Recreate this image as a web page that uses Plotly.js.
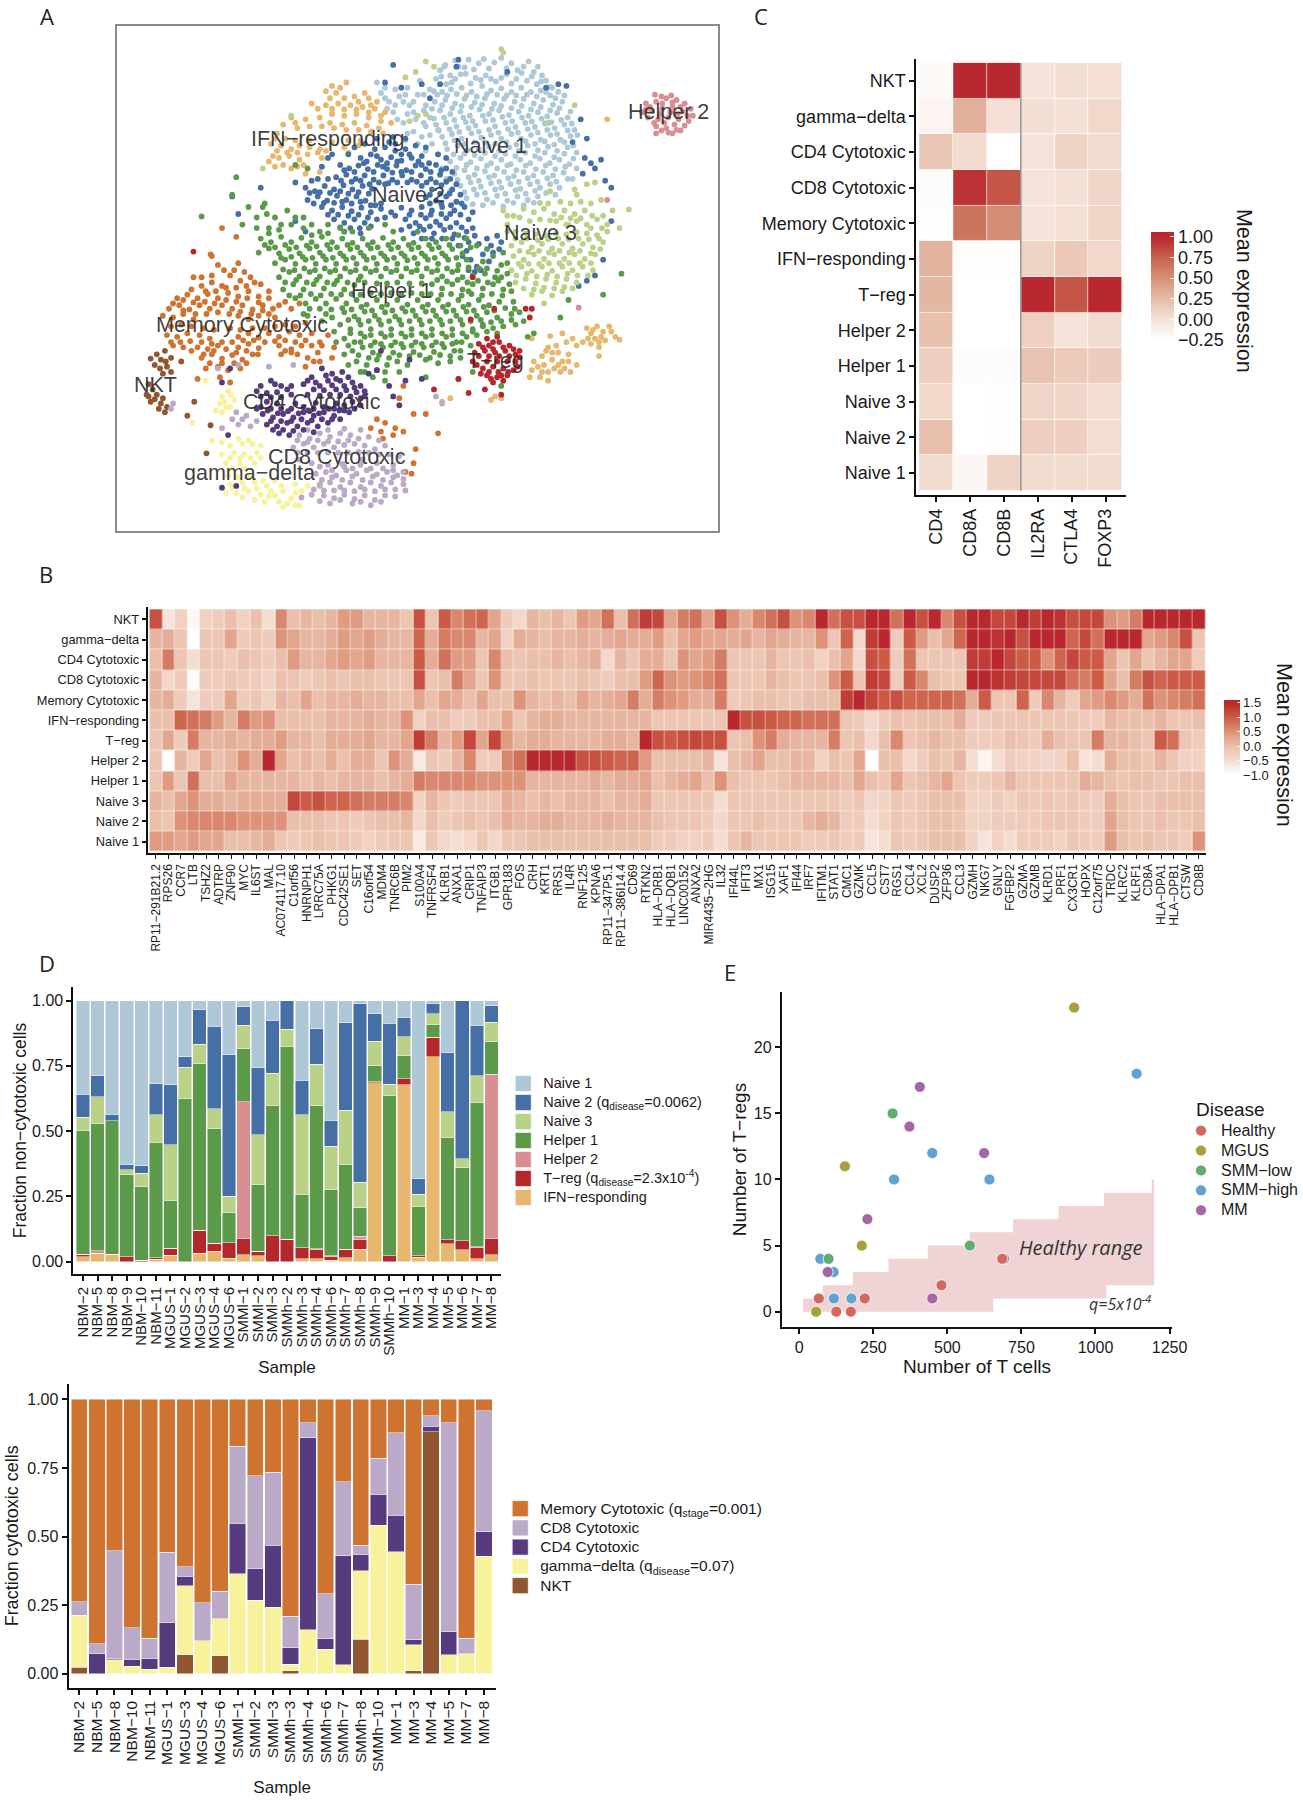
<!DOCTYPE html>
<html><head><meta charset="utf-8">
<script src="https://cdn.plot.ly/plotly-3.0.1.min.js"></script>
<style>html,body{margin:0;padding:0;background:#fff}</style></head>
<body><div id="chart" style="width:1303px;height:1800px"></div>
<script>
const naive1Pts=[835,200,860,215,880,190,905,170,930,180,955,195,985,165,1010,180,1040,190,1065,205,1085,215,825,225,850,240,872,225,898,210,922,222,947,215,972,232,998,212,1022,225,1048,230,1072,240,1095,230,1110,250,840,262,862,255,888,250,912,262,938,245,960,258,985,252,1010,262,1034,250,1058,262,1082,258,1105,272,1125,262,822,290,848,285,872,295,895,282,920,292,945,280,968,295,992,282,1018,290,1040,282,1065,295,1088,285,1112,298,1135,290,810,335,835,315,860,325,885,318,908,330,932,312,955,325,980,315,1004,328,1028,318,1052,330,1075,320,1098,332,1122,322,1148,335,825,355,850,350,875,360,898,348,922,358,946,345,970,360,995,350,1020,362,1044,350,1068,362,1092,352,1116,365,1140,355,1165,370,840,390,864,382,888,395,912,380,936,392,960,385,985,395,1010,382,1034,395,1058,385,1082,398,1106,385,1130,398,1155,388,852,425,878,415,902,428,930,425,955,418,980,430,1005,420,1028,430,1050,415,1075,428,1100,418,1122,430,1148,420,1170,435,860,460,885,450,910,462,935,452,960,465,985,455,1008,468,1032,455,1056,465,1080,452,1104,465,1128,455,1152,468,870,495,895,485,920,498,945,488,968,500,992,490,1016,502,1040,490,1064,500,1088,490,1112,500,1138,492,1160,510,885,530,910,520,935,532,960,522,985,535,1008,525,1032,538,1056,525,1080,535,1105,525,1128,535,900,565,925,555,950,568,975,558,1000,572,1025,560,1050,570,1075,560,680,235,710,290,735,275,760,300,720,320,780,270,800,300,775,340,745,350,700,250,830,370,790,390,815,410,770,375,
848,185,872,172,895,192,918,198,942,168,968,178,998,195,1025,200,1052,175,1075,190,838,218,863,235,885,212,910,238,935,228,960,225,985,222,1010,238,1035,208,1060,218,1083,232,1105,248,828,270,852,272,876,268,900,272,925,275,950,268,975,270,998,272,1022,272,1048,270,1072,275,1095,262,1118,280,1140,272,815,310,840,300,865,308,888,302,912,305,938,298,962,310,985,302,1010,308,1035,302,1058,312,1082,305,1105,315,1128,308,1155,318,820,338,845,335,870,342,892,335,915,345,940,330,965,342,988,333,1012,345,1036,335,1060,346,1084,338,1108,348,1132,342,1158,352,832,372,858,368,882,376,905,365,930,375,955,370,978,378,1002,368,1026,378,1050,368,1075,378,1098,370,1122,382,1148,372,1172,385,848,408,870,400,895,410,920,405,945,405,970,410,998,405,1022,412,1045,402,1068,410,1092,403,1115,412,1140,405,1162,415,868,440,895,438,920,442,945,436,970,445,995,438,1020,445,1044,435,1068,445,1092,435,1115,448,1140,438,1162,452,875,478,900,470,925,480,950,472,975,480,1000,472,1022,485,1045,472,1070,482,1094,472,1118,482,1142,475,1170,480,878,512,905,505,930,515,955,505,980,518,1002,508,1028,518,1050,508,1074,518,1098,508,1120,518,1148,510,895,548,918,540,945,550,970,540,995,552,1020,542,1045,552,1068,544,1095,550,1118,555,915,582,940,585,965,578,990,588,1015,578,1040,585,1065,578,690,265,725,300,750,270,770,320,795,315,810,255,845,190,755,380,800,360,705,310,785,230,700,280,725,255,755,250,745,290,770,290,795,270,820,260,730,340,755,325,795,350,810,385,750,400,780,410,800,430,830,440,840,480,850,510,860,545,875,575];
const naive2Pts=[700,420,725,430,750,425,640,450,665,440,690,455,715,448,740,458,765,450,790,445,590,470,612,480,635,472,658,482,682,470,705,482,728,472,752,485,775,472,800,482,825,470,850,480,580,505,605,498,628,510,650,500,672,512,696,500,718,512,742,500,765,512,788,500,812,510,835,498,860,510,505,535,528,545,552,530,575,540,598,528,620,540,645,530,668,538,700,525,790,530,815,540,838,528,865,540,510,570,535,560,558,572,582,558,605,570,630,560,652,572,676,585,800,562,825,572,850,560,875,575,545,590,570,600,595,590,618,602,642,592,665,605,690,595,715,605,740,592,765,600,790,590,815,600,840,590,870,600,895,590,575,625,600,635,625,625,650,635,680,625,750,625,775,635,800,622,825,632,850,622,875,635,905,625,600,660,640,665,740,655,770,665,795,655,820,665,845,655,870,668,900,660,880,700,905,690,930,695,960,700,985,690,965,720,980,710,910,740,925,760,905,770,920,775,890,730,325,560,340,610,480,520,395,535,720,185,875,190,740,250,790,240,700,235,810,280,835,240,880,170,1000,205,1095,250,1125,240,1145,245,1180,340,1160,405,1195,395,1190,450,1205,465,1215,480,1230,455,1185,495,1240,515,1255,535,1255,630,1235,740,1215,785,1195,800,1175,815,480,630,505,660,
710,405,740,440,675,425,725,410,655,460,680,445,705,465,730,460,760,440,782,460,808,465,600,485,625,490,648,465,672,490,695,475,718,492,740,490,765,490,790,470,812,490,838,485,865,490,592,515,618,518,640,515,662,525,685,520,708,522,730,520,755,520,778,518,802,520,825,520,850,518,875,525,515,550,540,548,565,550,590,545,610,552,635,548,660,552,810,555,835,552,858,552,885,555,525,580,550,578,575,578,595,575,618,580,640,575,665,585,690,580,810,580,838,580,862,585,888,580,560,612,585,612,610,615,635,612,658,620,700,620,725,615,760,612,788,612,812,612,838,610,860,610,885,612,915,605,590,648,615,650,638,650,665,645,760,645,785,645,810,645,835,642,860,648,888,648,915,650,790,680,815,680,840,680,865,680,895,678,920,672,950,680,975,672,940,725,955,745,900,715,935,770,560,450,545,475,570,440,610,440,625,420,650,410,680,395,720,390,750,395,775,415,800,420,830,440,850,450,535,510,560,510,520,515];
const naive3Pts=[1105,545,1165,540,1195,525,1230,570,1258,600,1298,597,1275,650,1215,520,1170,555,990,600,1015,615,1040,595,1065,605,1090,595,1115,610,1140,600,1165,610,1190,600,1000,640,1120,630,1145,640,1170,630,1195,640,1220,625,1245,640,1195,665,1220,670,1245,660,1010,700,1035,690,1060,705,1085,695,1110,708,1135,695,1160,708,1185,695,1210,705,1235,690,1015,730,1040,740,1065,725,1090,738,1115,725,1140,738,1165,725,1190,738,1215,725,1010,770,1035,760,1060,772,1085,760,1110,772,1135,760,1160,770,1185,760,1210,770,1020,805,1045,795,1070,808,1095,795,1120,805,1145,795,1170,805,1060,840,1085,830,1110,842,1135,830,1090,865,400,480,470,330,820,190,800,175,750,220,775,205,985,140,990,150,780,330,800,325,760,345,1100,350,1165,300,1150,640,1000,660,
1000,615,1030,620,1055,630,1080,625,1105,628,1132,620,1155,622,1180,622,1208,615,1235,615,1020,660,1045,665,1070,668,1095,672,1120,665,1145,668,1170,662,1205,650,1232,650,1020,680,1048,680,1075,685,1100,682,1125,680,1150,682,1175,680,1200,682,1225,680,1030,715,1052,718,1078,715,1102,720,1128,715,1152,720,1178,715,1205,722,1228,710,1028,752,1052,752,1078,752,1102,750,1128,750,1152,750,1178,750,1205,750,1022,785,1048,780,1072,788,1098,782,1122,788,1148,780,1172,785,1198,785,1040,822,1065,825,1090,820,1115,822,1140,818,1160,822,1100,580,1130,575,1155,580,1180,575,1205,580,1080,578];
const helper1Pts=[400,590,350,640,385,650,460,600,430,620,470,640,500,650,540,660,395,680,420,690,445,675,470,690,495,678,520,690,545,675,570,690,595,680,620,692,645,680,670,690,695,678,720,690,745,680,770,692,800,680,825,690,850,680,880,670,390,720,415,708,440,722,465,710,490,722,515,708,540,720,565,710,590,722,615,710,640,720,665,708,690,722,715,710,740,722,765,710,790,722,815,710,840,722,865,710,890,722,430,750,455,740,480,752,505,740,530,752,555,740,580,752,605,740,630,752,655,740,680,752,705,740,730,752,755,742,780,752,805,740,830,752,855,740,880,755,940,745,965,730,985,755,440,790,465,775,490,788,515,775,540,788,565,775,590,788,615,775,640,788,665,775,690,788,715,775,740,788,765,775,790,788,815,775,840,788,865,775,890,790,915,785,945,780,970,790,1000,780,450,825,475,810,500,825,525,810,550,822,575,810,600,825,625,812,815,810,840,822,865,810,890,825,915,810,940,822,965,810,990,825,480,850,505,865,530,852,555,865,580,852,605,865,630,855,655,868,680,855,705,868,730,855,755,868,780,855,805,868,830,855,855,868,880,855,905,868,930,855,955,870,980,860,500,895,600,890,625,902,650,888,675,900,700,890,725,902,750,888,775,900,800,888,825,900,850,888,875,900,900,888,925,900,950,890,975,905,1010,895,590,925,615,938,640,925,665,938,690,925,715,938,740,925,765,938,790,925,815,938,840,925,865,938,890,925,915,938,940,925,965,935,990,930,1020,925,600,965,625,975,650,960,675,975,700,960,725,975,750,960,775,975,800,960,825,975,850,960,875,975,900,960,925,955,950,945,975,950,620,1000,645,990,670,1005,695,990,720,1005,745,990,770,1003,795,990,820,1003,845,990,870,1000,630,1030,655,1040,680,1025,705,1040,730,1030,755,1040,800,1025,830,1035,860,1030,885,1020,1040,915,1065,950,1130,905,1150,855,1235,840,1280,780,1050,960,880,1080,800,1075,915,1060,735,1060,985,1100,325,555,250,617,335,505,510,900,480,470,510,480,405,580,
405,698,430,705,455,698,482,705,508,700,532,702,558,698,582,705,608,698,632,705,658,698,682,705,708,698,732,705,758,698,782,705,808,698,832,705,858,698,885,700,910,705,445,735,470,732,498,732,522,735,548,730,572,735,598,730,622,735,648,730,672,735,698,730,722,735,748,730,772,735,798,730,822,735,848,730,875,735,900,740,950,765,975,772,450,768,478,770,502,765,528,770,552,765,578,770,602,765,628,770,652,765,678,770,702,765,728,770,752,765,778,770,802,765,828,770,852,765,878,770,905,762,930,765,455,805,482,798,508,805,532,798,558,805,582,800,608,805,635,798,650,805,680,808,705,808,730,805,760,808,790,808,828,798,852,802,878,798,902,805,928,800,952,805,978,800,1005,810,465,842,492,842,518,838,542,842,568,838,592,840,618,838,640,840,665,835,690,838,715,835,740,838,765,835,790,838,812,838,838,840,862,838,888,842,912,838,938,842,962,838,988,842,515,880,540,880,568,882,595,878,618,882,642,875,668,885,692,875,718,885,742,878,768,885,792,875,818,885,842,875,868,885,892,875,918,885,942,875,968,885,995,878,1018,880,610,912,635,912,660,915,685,912,710,915,735,912,760,915,785,912,810,915,835,912,860,915,885,912,910,915,935,912,960,918,985,915,1010,912,615,950,640,950,665,955,690,950,715,955,740,950,765,955,790,950,815,955,840,950,865,955,890,950,915,945,940,930,635,1012,660,1020,685,1012,710,1020,735,1012,760,1015,785,1012,810,1020,835,1012,860,1015,885,1000,610,985,640,975,665,985,690,980,715,985,740,980,765,985,790,980,815,985,840,980,865,980,888,975,910,985,650,1060,680,1055,700,1060,520,670,560,665,600,660,780,660,365,590,385,620,410,610,445,640,415,650,440,655,415,665,480,620,500,620,520,640,560,640,590,650,620,660,660,650,700,640,720,660,900,680,925,700,950,710,990,720,1000,750,985,790,1010,830,1015,860,1030,890,905,830,555,895,545,915,570,905,575,945,580,975,600,1010,610,1040,640,1060,670,1075,700,1085];
const memoryPts=[272,725,340,750,275,785,250,790,230,790,290,755,320,785,345,800,370,790,395,810,300,815,275,805,250,815,225,825,190,850,215,840,240,850,265,838,290,850,315,835,340,845,365,830,390,845,415,830,170,880,195,870,220,882,245,870,270,880,300,870,325,880,350,870,375,882,400,870,455,860,470,880,155,900,180,905,205,895,230,910,340,900,365,910,390,900,415,895,490,865,165,955,190,960,215,950,245,955,270,965,340,960,365,950,390,962,415,950,440,960,465,945,490,955,520,950,560,955,180,985,205,990,240,990,265,995,290,985,340,990,365,980,390,992,440,985,470,995,495,985,250,1020,275,1010,300,1022,325,1012,350,1025,375,1010,445,1010,470,1005,510,1020,535,1005,575,990,260,1050,290,1045,315,1055,345,1050,525,1030,570,1020,295,1075,320,1090,240,1080,680,1195,700,1205,665,1220,690,1230,725,1220,745,1230,695,1250,720,1240,775,1280,770,1320,750,1345,765,1350,735,1135,745,1100,770,1180,800,1180,830,1235,300,650,335,675,275,730,
305,770,330,770,355,775,380,805,260,830,285,830,310,820,335,820,360,815,205,855,230,862,258,860,282,865,310,855,335,860,362,850,390,862,415,850,440,870,180,865,205,885,235,895,262,895,290,890,318,895,345,888,372,895,400,885,425,880,430,905,175,930,200,925,225,930,255,935,280,940,320,935,345,940,375,935,405,935,430,930,455,925,480,930,505,920,175,975,198,975,222,972,250,975,275,980,300,975,325,975,352,970,378,970,405,975,430,972,455,970,480,975,505,970,540,975,225,1000,255,1010,280,1000,310,995,335,1005,360,1000,388,1010,455,1000,485,1010,520,985,545,985,270,1035,300,1035,330,1035,360,1035,540,1030,505,1045];
const nktPts=[160,1000,125,1022,150,1025,175,1020,135,1040,165,1045,155,1065,175,1060,130,1110,115,1125,140,1125,125,1145,150,1150,165,1160,145,1165,120,1095,200,1030,232,1145,215,1185,272,1212,262,1292,140,1010,162,1030,148,1050,120,1130,135,1138,155,1135,160,1175];
const cd4Pts=[545,1050,570,1065,595,1060,520,1075,420,1085,395,1100,445,1100,500,1095,530,1090,560,1085,590,1085,620,1090,640,1100,660,1065,680,1055,385,1115,410,1120,435,1118,460,1110,525,1110,550,1112,580,1110,605,1112,630,1118,400,1180,425,1190,450,1180,475,1190,500,1175,525,1185,550,1175,575,1185,600,1170,625,1165,410,1210,435,1215,460,1205,485,1215,510,1205,535,1215,560,1205,440,1235,465,1240,410,1145,435,1150,480,1150,530,1148,580,1150,620,1145,650,1130,710,1100,720,1130,735,1155,320,1050,300,1090,315,1240,300,1390,335,1385,690,1000,760,1025,750,1085,790,1080,
555,1070,580,1080,610,1075,430,1095,470,1100,510,1085,540,1100,570,1098,600,1100,625,1105,650,1115,395,1130,420,1132,445,1132,470,1125,510,1125,540,1128,565,1125,590,1125,615,1130,640,1135,395,1160,420,1165,445,1165,470,1165,500,1160,525,1165,550,1160,575,1165,600,1155,640,1155,385,1165,412,1170,437,1178,462,1172,488,1178,512,1170,538,1178,562,1165,588,1170,612,1175,420,1200,445,1200,470,1200,495,1195,520,1198,545,1195,570,1195,590,1195,425,1225,450,1225,475,1228,500,1225,525,1232];
const cd8Pts=[335,1175,360,1185,385,1200,300,1220,340,1210,490,1240,515,1250,540,1235,565,1245,590,1235,615,1240,640,1225,475,1275,500,1265,525,1275,550,1265,575,1275,600,1268,625,1265,650,1270,675,1280,700,1270,530,1350,555,1345,580,1355,605,1340,630,1350,655,1340,680,1352,705,1345,730,1355,540,1385,565,1375,590,1388,615,1375,640,1388,665,1375,690,1385,715,1375,745,1380,495,1418,520,1410,550,1412,575,1420,600,1410,625,1422,650,1412,675,1425,700,1412,725,1415,590,1425,620,1435,665,1440,490,1310,520,1320,560,1325,600,1330,640,1325,680,1320,720,1325,475,1040,415,1045,340,1040,290,1050,180,1150,175,1165,840,1150,825,1130,
350,1195,370,1215,325,1195,510,1225,560,1225,600,1222,485,1255,510,1260,535,1255,560,1258,585,1258,610,1255,635,1250,660,1245,685,1255,485,1290,510,1290,535,1290,560,1290,585,1290,610,1290,635,1288,660,1290,685,1295,710,1295,735,1300,540,1330,570,1340,595,1322,620,1335,645,1310,665,1335,695,1335,720,1340,745,1345,545,1368,570,1360,595,1368,620,1358,645,1368,670,1358,695,1368,720,1360,745,1365,525,1395,550,1398,575,1398,600,1398,625,1400,650,1395,675,1400,700,1395,725,1395,750,1398,540,1428,565,1435,640,1430,690,1430];
const gammaPts=[300,1130,315,1115,295,1150,320,1160,300,1175,330,1140,275,1255,320,1270,350,1265,375,1265,300,1295,330,1290,355,1295,385,1290,310,1320,345,1320,380,1320,320,1380,350,1375,380,1375,410,1385,445,1385,310,1405,335,1405,365,1400,395,1410,480,1380,510,1385,415,1415,440,1430,470,1420,490,1440,450,1445,260,1085,228,1205,
305,1145,285,1170,322,1125,310,1160,300,1260,340,1250,365,1255,395,1270,320,1305,345,1305,370,1305,395,1305,325,1335,355,1335,315,1355,340,1360,370,1360,400,1370,430,1370,325,1390,355,1392,385,1392,420,1400,450,1400,480,1405,350,1418,380,1425,405,1430,430,1412,460,1435,480,1440,495,1400];
const tregPts=[950,965,975,960,930,980,955,985,980,975,1005,985,1030,1000,920,1005,945,1000,970,1005,995,1000,1020,1010,915,1030,1000,1030,1020,1030,940,1050,965,1045,990,1050,1015,1055,950,1070,975,1075,1000,1070,965,1090,990,1085,1045,880,1060,880,968,880,1055,905,910,910,905,1120,945,1110,985,1125,230,717,820,1110,880,1080,915,790,
965,975,940,990,965,995,990,990,1015,995,930,1015,955,1015,980,1015,1005,1015,1030,1018,925,1040,950,1030,975,1030,955,1060,978,1060,1002,1060,1025,1045,935,1065,960,1080,985,1070];
const helper2Pts=[1362,270,1340,295,1365,290,1390,280,1415,285,1435,295,1450,310,1330,320,1355,315,1380,310,1405,305,1430,318,1455,330,1345,335,1370,340,1395,335,1420,340,1445,345,1365,360,1390,365,1415,370,1365,380,1395,378,1425,372,1175,877,1245,570,
1378,275,1402,272,1425,305,1350,305,1375,325,1400,320,1442,330,1418,325,1360,350,1385,350,1410,355,1435,358,1340,312,1380,295,1405,292,1378,372,1405,380];
const ifnPts=[570,245,605,235,555,260,580,265,650,265,625,275,660,280,680,290,520,295,555,300,585,295,615,300,645,305,675,310,700,320,570,325,600,330,630,325,660,335,690,345,470,335,450,355,480,350,505,340,540,335,565,350,595,355,625,350,655,358,685,365,715,350,435,380,420,410,445,415,470,425,490,415,515,420,540,425,600,420,635,415,415,460,440,450,465,445,490,455,430,475,470,480,500,470,545,450,540,490,505,495,1195,935,1220,930,1250,930,1235,945,1205,950,1160,965,1185,975,1215,965,1240,970,1265,960,1275,968,1225,990,1205,980,1225,1015,1100,990,1125,1005,1150,1010,1085,1015,1110,1025,1135,1030,1065,1030,1090,1040,1115,1050,1060,1055,1085,1060,1140,1050,1170,1040,1100,1085,1060,965,1105,958,1135,950,970,1130,960,1140,985,1135,860,1135,840,1145,835,1010,1245,340,540,1380,
590,250,565,280,600,280,635,290,665,300,535,310,570,310,600,312,630,312,660,320,690,330,485,365,515,360,545,360,575,365,605,370,635,370,665,375,695,380,455,395,430,395,480,400,515,400,570,405,610,400,640,400,435,430,460,435,485,435,510,440,535,435,555,430,610,435,425,445,450,470,485,475,1210,940,1230,960,1198,965,1225,975,1255,945,1145,975,1170,985,1120,985,1110,1005,1095,1000,1075,1045,1100,1060,1125,1040,1150,1030,1130,1060,1155,1060,1080,1075,1055,1075];
const clusterLabels=['IFN−responding','Naive 1','Naive 2','Naive 3','Helper 2','Helper 1','Memory Cytotoxic','NKT','CD4 Cytotoxic','CD8 Cytotoxic','gamma−delta','T−reg'];
const clusterLabelX=[560,958,757,1082,1396,715,350,137,520,583,368,970];
const clusterLabelY=[395,417,556,663,320,828,925,1098,1145,1303,1347,1028];

// ---------- Shared row names ----------
const rowNames=['NKT','gamma−delta','CD4 Cytotoxic','CD8 Cytotoxic','Memory Cytotoxic','IFN−responding','T−reg','Helper 2','Helper 1','Naive 3','Naive 2','Naive 1'];

// ---------- Panel C ----------
const markerGenes=['CD4','CD8A','CD8B','IL2RA','CTLA4','FOXP3'];
const markerValues=[
[-.2,1.05,1.05,0,.03,.02],
[-.15,.32,.02,.03,.02,.07],
[.18,.05,-.25,0,.1,.05],
[-.22,.95,.8,0,.02,.08],
[-.23,.65,.52,0,.02,.08],
[.3,-.24,-.24,.1,.17,.07],
[.28,-.25,-.25,1.05,.8,1.05],
[.22,-.25,-.25,.12,0,.05],
[.13,-.22,-.22,.2,.15,.14],
[.07,-.25,-.24,.08,.08,.04],
[.22,-.25,-.24,.13,.13,.04],
[.05,-.18,.1,.05,.05,.05]];

// ---------- Panel B ----------
const topGenes=['RP11−291B21.2','RPS26','CCR7','LTB','TSHZ2','ADTRP','ZNF90','MYC','IL6ST','MAL','AC074117.10','C1orf56','HNRNPH1','LRRC75A','PHKG1','CDC42SE1','SET','C16orf54','MDM4','TNRC6B','PIM2','S100A4','TNFRSF4','KLRB1','ANXA1','CRIP1','TNFAIP3','ITGB1','GPR183','FOS','CRH','KRT1','RRS1','IL4R','RNF125','KPNA6','RP11−347P5.1','RP11−386I14.4','CD69','RTKN2','HLA−DRB1','HLA−DQB1','LINC00152','ANXA2','MIR4435−2HG','IL32','IFI44L','IFIT3','MX1','ISG15','XAF1','IFI44','IRF7','IFITM1','STAT1','CMC1','GZMK','CCL5','CST7','RGS1','CCL4','XCL2','DUSP2','ZFP36','CCL3','GZMH','NKG7','GNLY','FGFBP2','GZMA','GZMB','KLRD1','PRF1','CX3CR1','HOPX','C12orf75','TRDC','KLRC2','KLRF1','CD8A','HLA−DPA1','HLA−DPB1','CTSW','CD8B'];
const exprNKT=[1.1,-.6,-.3,-.9,-.3,-.2,0,-.3,0,-.5,.6,0,.1,0,.1,.4,.4,.1,.1,.1,-.1,1.1,-.1,1,.6,.8,.9,.3,-.2,-.4,.1,0,.1,-.1,.4,.3,.8,0,.8,1.3,1.2,.3,.7,.8,.3,1.1,.5,.2,.6,.8,1.1,.5,.6,1.5,.8,1.1,1.1,1.5,1.5,.8,1.5,1.1,1.5,.6,1.1,1.5,1.5,1.2,1.2,1.5,1.3,1.5,1.4,1.1,1.2,1.2,.5,.4,.7,1.5,1.5,1.5,1.5,1.5];
const exprGamma=[.1,.2,-.1,-1,-.1,-.1,.3,-.2,-.1,-.2,.5,.3,.1,.1,.2,.4,.3,.4,.2,.1,.1,.9,.2,.7,.6,.6,.1,.3,-.3,.2,.1,0,.1,.1,.2,.1,.2,.3,.2,.2,.4,0,.3,.4,.3,.3,.2,.3,.1,.3,.2,.1,.1,.5,-.1,.9,-.4,1.3,1.5,-.2,1,.4,0,.3,.9,1.5,1.5,1.4,1.5,1.1,1.5,1.5,1.5,.9,1.2,.8,1.5,1.5,1.5,.3,.4,.6,1.1,-.1];
const exprCD4=[0,.7,-.1,-.5,-.1,-.1,-.2,0,-.1,-.2,0,.4,.1,.1,.3,.4,.3,.4,.1,.1,.1,1,.2,.8,.4,.4,-.1,.6,0,-.1,0,0,.1,0,.1,.2,-.4,.1,-.1,.2,.2,-.1,.5,.3,.4,.7,-.1,-.1,-.1,.1,-.1,-.1,0,-.3,0,.3,-.4,1.1,1,-.2,.8,-.1,-.1,-.1,-.1,1.3,1.3,1.5,1.2,1,1,.5,.9,1.2,1,1,.3,-.1,.3,-.1,.1,.3,.3,-.2];
const exprCD8=[.1,-.4,-.2,-.95,-.2,-.2,-.1,-.2,-.2,-.3,0,-.1,-.2,-.1,0,-.1,0,0,-.1,-.1,-.1,1.1,-.1,0,.7,.3,-.1,.5,-.1,-.1,0,-.1,-.1,-.1,0,-.1,-.2,0,0,.4,.9,.5,.4,.5,.6,.8,-.1,-.1,-.1,.1,0,-.1,-.1,0,.5,1,-.1,1.3,1.2,-.2,1,.6,0,-.1,-.1,1.5,1.5,1.4,1.3,1.2,1.2,1.2,1.2,.8,.7,1,.3,0,.7,1.1,.9,1,1,1];
const exprMemory=[.1,.2,-.2,-.6,-.2,-.2,.3,-.2,-.1,-.3,.1,0,.3,0,.1,.1,.2,.1,.1,0,0,.3,0,.3,.2,0,.3,0,0,.5,.1,0,.1,0,.3,.1,.2,.3,.7,.2,.7,.5,.4,.2,.2,.7,-.2,-.1,0,0,-.1,-.1,0,0,0,1.3,1.5,1.2,1,1.1,.9,.9,.9,.9,.8,.2,1,-.1,-.1,.9,-.2,.6,.1,-.2,.3,.4,.6,.4,.2,.8,.5,.6,.7,.8];
const exprIFN=[0,0,.9,.8,.7,.4,.1,.7,.4,.5,0,0,0,0,.1,.1,.1,.2,.1,.1,.5,-.3,0,0,-.2,-.2,0,0,.3,-.1,.1,.2,.2,.1,.1,.1,.1,.1,.1,.1,-.1,-.1,-.1,-.1,-.1,-.1,1.5,1.1,1.1,1,.9,.9,.8,.8,.8,-.1,-.2,-.4,-.2,0,-.1,0,0,0,.2,-.2,-.2,-.1,-.1,-.1,-.1,-.1,-.1,-.1,-.2,-.2,.1,0,0,0,.1,-.1,-.1,0];
const exprTreg=[-.1,.3,-.2,.7,.1,.1,.2,.1,.2,.2,.4,.1,.1,0,.2,.2,.2,.3,.1,.1,.3,1.3,.7,.1,.4,1.2,.3,1.2,.4,.1,.2,.2,.1,.1,.1,.1,.2,.2,.1,1.5,1.1,1,1.1,1.2,1.1,1.1,-.1,0,.5,.7,.2,.1,.1,.1,.7,-.1,0,-.4,0,.6,-.1,0,.1,0,0,-.2,-.2,-.2,0,-.1,-.2,.2,0,-.1,-.1,.7,.1,.1,0,-.1,1,.8,-.1,-.2];
const exprHelper2=[-.1,-1,.1,-.2,.3,0,.1,.5,.2,1.5,.3,0,.1,0,.2,0,.2,.2,-.1,.5,.2,-.7,-.1,-.2,.1,.6,-.2,-.2,.6,.8,1.5,1.5,1.5,1.5,1.1,1.1,1,.9,.9,.4,0,0,0,0,.1,-.6,0,.1,.3,0,0,.1,.1,-.3,0,-.1,.3,-1,0,0,-.4,-.2,0,-.1,.1,-.5,-.85,-.5,-.2,-.3,-.3,-.4,-.3,0,-.6,-.5,.2,0,0,-.1,.1,-.1,-.3,-.3];
const exprHelper1=[-.1,.4,-.1,.8,0,0,.3,.1,.1,.1,.1,.1,0,.1,0,.1,.1,.1,0,.1,.2,.7,.6,.6,.6,.6,.5,.5,.5,.5,.1,.1,.1,.1,.1,.2,.1,.2,.2,.3,0,.1,.2,.3,0,.5,0,-.1,-.1,-.1,0,.1,.1,.1,.1,0,.3,0,-.1,.3,-.1,0,.1,.3,-.1,-.2,-.2,-.1,.1,-.1,-.1,-.1,-.1,-.1,.2,.1,0,-.1,0,0,-.1,-.1,0,0];
const exprNaive3=[.1,0,.3,.5,.2,.2,.1,.2,.2,.2,.2,1.2,1,1.1,.9,.9,.8,.7,.7,.7,.6,-.3,.1,-.1,-.2,-.1,-.1,-.1,.2,.1,0,.1,0,.1,.1,.1,0,.1,.1,.2,-.1,-.1,-.1,-.1,-.1,-.5,-.1,-.1,-.1,-.1,-.1,-.1,-.1,-.1,-.1,-.2,-.1,-.4,-.3,-.1,-.2,-.1,0,0,0,-.3,-.3,-.2,-.3,-.1,-.2,-.1,-.2,-.1,-.2,-.2,.2,0,-.1,-.1,0,0,0,0];
const exprNaive2=[0,-.1,.5,.6,.6,.6,.6,.5,.5,.5,.5,0,0,0,-.1,-.1,-.2,-.1,0,0,.1,-.4,0,-.2,-.1,0,-.1,0,.2,.1,.1,.2,.2,.1,.1,.1,.2,.1,.1,.1,0,-.1,-.1,-.1,-.2,-.4,-.1,-.1,0,-.1,-.1,-.1,.1,.2,.1,-.2,-.2,-.5,-.3,-.1,-.2,-.1,0,0,-.1,-.3,-.3,-.2,-.2,-.2,-.2,-.1,-.1,-.1,-.2,-.2,.3,0,-.1,-.1,0,-.1,-.1,0];
const exprNaive1=[.4,.4,.3,.4,.3,.3,0,0,.1,.2,-.1,-.2,-.1,0,-.1,-.1,-.2,-.3,-.2,-.1,-.1,-.7,-.1,-.4,-.5,-.4,-.1,-.4,-.1,-.1,0,0,0,0,0,0,0,0,0,0,-.2,-.2,-.3,-.3,-.2,-.5,-.1,.1,-.1,-.1,-.1,-.1,-.2,-.2,-.1,-.2,-.2,-.6,-.5,-.1,-.2,-.1,0,0,0,-.3,-.6,-.3,-.5,-.2,-.2,-.2,-.3,-.1,-.2,-.2,.4,0,-.1,0,-.1,-.1,-.2,.5];

// ---------- Panel D, upper ----------
const samplesNon=['NBM−2','NBM−5','NBM−8','NBM−9','NBM−10','NBM−11','MGUS−1','MGUS−2','MGUS−3','MGUS−4','MGUS−6','SMMl−1','SMMl−2','SMMl−3','SMMh−2','SMMh−3','SMMh−4','SMMh−6','SMMh−7','SMMh−8','SMMh−9','SMMh−10','MM−1','MM−3','MM−4','MM−5','MM−6','MM−7','MM−8'];
const fracIFN=[.02,.033,.028,0,0,.01,.025,0,.032,.04,.014,.026,.022,0,0,.012,.012,.006,.016,.048,.685,0,.678,.018,.784,.068,.046,.012,.027];
const fracTreg=[.008,0,0,.02,.006,.006,.025,0,.086,.03,.058,.062,.016,.1,.086,.042,.036,.014,.029,.036,.005,.022,.022,.004,.074,.017,.034,.043,.063];
const fracHelper2=[0,.009,0,0,0,0,.002,0,.002,0,0,.524,.002,0,0,0,.002,.002,.003,.014,0,0,0,0,.002,0,0,.003,.627];
const fracHelper1=[.475,.488,.512,.313,.282,.441,.183,.625,.638,.442,.118,.205,.257,.497,.739,.204,.547,.256,.325,.109,.062,.615,.09,.188,.048,.39,.28,.552,.126];
const fracNaive3=[.05,.102,0,.02,.05,.106,.213,.119,.074,.073,.06,.088,.19,.125,.065,.304,.159,.165,.207,.098,.093,.043,.072,.048,.042,.1,.035,.103,.074];
const fracNaive2=[.089,.081,.025,.02,.03,.119,.23,.04,.133,.317,.543,.072,.258,.203,.11,.133,.137,.099,.335,.682,.105,.234,.072,.06,.04,.225,.605,.193,.063];
const fracNaive1=[.358,.287,.435,.627,.632,.318,.322,.216,.035,.098,.207,.023,.255,.075,0,.305,.107,.458,.085,.013,.05,.086,.066,.682,.01,.2,0,.094,.02];

// ---------- Panel D, lower ----------
const samplesCyto=['NBM−2','NBM−5','NBM−8','NBM−10','NBM−11','MGUS−1','MGUS−3','MGUS−4','MGUS−6','SMMl−1','SMMl−2','SMMl−3','SMMh−3','SMMh−4','SMMh−6','SMMh−7','SMMh−8','SMMh−10','MM−1','MM−3','MM−4','MM−5','MM−7','MM−8'];
const fracNKT=[.023,0,0,0,0,0,.07,0,.065,0,0,0,.01,0,0,0,.125,0,0,.01,.882,0,0,0];
const fracGamma=[.19,0,.05,.027,.016,.023,.25,.12,.135,.365,.268,.243,.025,.16,.09,.033,.25,.542,.445,.095,0,.07,.073,.428];
const fracCD4=[0,.073,.007,.025,.04,.162,.035,0,0,.183,.114,.225,.059,.7,.037,.397,.06,.113,.133,.018,.02,.083,0,.09];
const fracCD8=[.049,.037,.391,.115,.073,.258,.035,.138,.1,.282,.34,.267,.116,.055,.165,.27,.033,.13,.3,.204,.038,.762,.057,.44];
const fracMemory=[.738,.89,.552,.833,.871,.557,.61,.742,.7,.17,.278,.265,.79,.085,.708,.3,.532,.215,.122,.673,.06,.085,.87,.042];

// ---------- Panel E ----------
const healthyX=[66,125,174,221,480,685], healthyY=[1,0,0,1,2,4];
const mgusX=[57,154,211,928], mgusY=[0,11,5,23];
const smmLowX=[99,315,576], smmLowY=[4,15,5];
const smmHighX=[71,116,117,176,320,449,642,1139], smmHighY=[4,3,1,1,10,12,10,18];
const mmX=[96,230,372,407,449,624,691], mmY=[3,7,14,17,1,12,4];
const rangeX=[13,13,79,79,181,181,301,301,434,434,575,575,722,722,875,875,1029,1029,1190,1190,1198,1198,1037,1037,655,655,13];
const rangeY=[0,1,1,2,2,3,3,4,4,5,5,6,6,7,7,8,8,9,9,10,10,2,2,1,1,0,0];

// ---------- Colours and helpers ----------
const C={naive1:'#AEC8D8',naive2:'#466FA6',naive3:'#B9D287',helper1:'#5B9A49',helper2:'#D98E91',treg:'#B5262D',ifn:'#E6B76D',memory:'#CE7330',cd8:'#BBA9C8',cd4:'#563B7F',gamma:'#F8F29C',nkt:'#905631'};
const W=1303,H=1800,FONT='"Liberation Sans",Arial,sans-serif',INK='#1a1a1a';
const dx=(a,b)=>[a/W,b/W];
const dy=(top,bot)=>[1-bot/H,1-top/H];
const xs=p=>p.filter((v,i)=>i%2===0), ys=p=>p.filter((v,i)=>i%2===1);
const big=(s,t)=>'<span style="font-size:'+s+'px">'+t+'</span>';

const traces=[];
// Panel A
[[naive1Pts,C.naive1,'Naive 1'],[ifnPts,C.ifn,'IFN−responding'],[naive2Pts,C.naive2,'Naive 2'],[naive3Pts,C.naive3,'Naive 3'],[memoryPts,C.memory,'Memory Cytotoxic'],[helper1Pts,C.helper1,'Helper 1'],[nktPts,C.nkt,'NKT'],[cd8Pts,C.cd8,'CD8 Cytotoxic'],[gammaPts,C.gamma,'gamma−delta'],[cd4Pts,C.cd4,'CD4 Cytotoxic'],[tregPts,C.treg,'T−reg'],[helper2Pts,C.helper2,'Helper 2']].forEach(([p,c,n])=>{
  traces.push({type:'scatter',mode:'markers',x:xs(p),y:ys(p),name:n,marker:{size:5.8,color:c},showlegend:false,xaxis:'x',yaxis:'y'});
});

// Panel C heatmap
traces.push({type:'heatmap',x:markerGenes,y:rowNames,z:markerValues,xgap:0.7,ygap:0.7,zmin:-0.25,zmax:1.06,xaxis:'x2',yaxis:'y2',
 colorscale:[[0,'#FFFFFF'],[0.19,'#F5E3D9'],[0.38,'#E6BCA8'],[0.57,'#D59279'],[0.76,'#C6634D'],[0.95,'#B8282E'],[1,'#B8282E']],
 colorbar:{x:1153/W,xanchor:'left',xref:'paper',y:1-232/H,yanchor:'top',yref:'paper',lenmode:'pixels',len:108,thickness:23,thicknessmode:'pixels',outlinewidth:0,xpad:0,ypad:0,
   tickvals:[-0.25,0,0.25,0.5,0.75,1],ticktext:['−0.25','0.00','0.25','0.50','0.75','1.00'],ticks:'inside',ticklen:4,tickcolor:'rgba(255,255,255,0.8)',tickfont:{family:FONT,size:18,color:INK}}});

// Panel B heatmap
traces.push({type:'heatmap',x:topGenes,y:rowNames,z:[exprNKT,exprGamma,exprCD4,exprCD8,exprMemory,exprIFN,exprTreg,exprHelper2,exprHelper1,exprNaive3,exprNaive2,exprNaive1],xgap:0.5,ygap:0.5,zmin:-1,zmax:1.6,xaxis:'x3',yaxis:'y3',
 colorscale:[[0,'#FFFFFF'],[0.192,'#F4DDD1'],[0.385,'#EABFAC'],[0.577,'#DC9379'],[0.769,'#CB5B45'],[0.962,'#B8282E'],[1,'#B8282E']],
 colorbar:{x:1226/W,xanchor:'left',xref:'paper',y:1-700/H,yanchor:'top',yref:'paper',lenmode:'pixels',len:75,thickness:16,thicknessmode:'pixels',outlinewidth:0,xpad:0,ypad:0,
   tickvals:[-1,-0.5,0,0.5,1,1.5],ticktext:['−1.0','−0.5','0.0','0.5','1.0','1.5'],ticks:'inside',ticklen:3,tickcolor:'rgba(255,255,255,0.8)',tickfont:{family:FONT,size:13,color:INK}}});

// Panel D bars + legend keys
function stack(samples,series,ax,ay,legend,font){
  series.forEach(s=>traces.push({type:'bar',x:samples,y:s.v,name:s.n,marker:{color:s.c,line:{color:'rgba(255,255,255,0.8)',width:0.6}},showlegend:false,xaxis:ax,yaxis:ay}));
  series.slice().reverse().forEach(s=>traces.push({type:'scatter',mode:'markers',x:[null],y:[null],name:big(font,s.l||s.n),marker:{symbol:'square',size:16,color:s.c,line:{color:'#fff',width:0.6}},showlegend:true,legend:legend,xaxis:ax,yaxis:ay}));
}
stack(samplesNon,[
 {n:'IFN−responding',v:fracIFN,c:C.ifn},
 {n:'T−reg',l:'T−reg (q<sub>disease</sub>=2.3x10<sup>-4</sup>)',v:fracTreg,c:C.treg},
 {n:'Helper 2',v:fracHelper2,c:C.helper2},
 {n:'Helper 1',v:fracHelper1,c:C.helper1},
 {n:'Naive 3',v:fracNaive3,c:C.naive3},
 {n:'Naive 2',l:'Naive 2 (q<sub>disease</sub>=0.0062)',v:fracNaive2,c:C.naive2},
 {n:'Naive 1',v:fracNaive1,c:C.naive1}],'x4','y4','legend',14.5);
stack(samplesCyto,[
 {n:'NKT',v:fracNKT,c:C.nkt},
 {n:'gamma−delta',l:'gamma−delta (q<sub>disease</sub>=0.07)',v:fracGamma,c:C.gamma},
 {n:'CD4 Cytotoxic',v:fracCD4,c:C.cd4},
 {n:'CD8 Cytotoxic',v:fracCD8,c:C.cd8},
 {n:'Memory Cytotoxic',l:'Memory Cytotoxic (q<sub>stage</sub>=0.001)',v:fracMemory,c:C.memory}],'x5','y5','legend2',15.5);

// Panel E
traces.push({type:'scatter',mode:'lines',x:rangeX,y:rangeY,fill:'toself',fillcolor:'#EFD3D5',line:{width:0},name:'Healthy range',showlegend:false,xaxis:'x6',yaxis:'y6'});
[['MGUS',mgusX,mgusY,'#A5A23C',2],['SMM−high',smmHighX,smmHighY,'#5FA2D3',4],['SMM−low',smmLowX,smmLowY,'#5FAE6E',3],['MM',mmX,mmY,'#A566A5',5],['Healthy',healthyX,healthyY,'#D2695C',1]].forEach(([n,x,y,c,r])=>{
  traces.push({type:'scatter',mode:'markers',x,y,name:big(16,n),legendrank:r,marker:{size:11,color:c,line:{color:'rgba(255,255,255,0.8)',width:1}},legend:'legend3',xaxis:'x6',yaxis:'y6'});
});

// Axes
const classic=(o)=>Object.assign({showgrid:false,zeroline:false,showline:true,linecolor:'#111',linewidth:2,ticks:'outside',ticklen:5,tickwidth:1.5,tickcolor:'#111',tickfont:{family:FONT,size:16,color:INK},automargin:false},o);
const cats=(o,list,fs,angle)=>classic(Object.assign({type:'category',categoryorder:'array',categoryarray:list,tickmode:'array',tickvals:list,ticktext:list,tickfont:{family:FONT,size:fs,color:INK},tickangle:angle},o));
const axisTitle=(t,s,st)=>({text:t,font:{family:FONT,size:s,color:INK},standoff:st});

const layout={
 width:W,height:H,margin:{l:0,r:0,t:0,b:0,pad:0},paper_bgcolor:'#fff',plot_bgcolor:'rgba(0,0,0,0)',barmode:'stack',bargap:0.07,hovermode:false,
 showlegend:true,
 // A
 xaxis:{domain:dx(117,719.6),range:[42,1518],anchor:'y',showgrid:false,zeroline:false,showticklabels:false,ticks:'',showline:true,mirror:true,linecolor:'#8a8a8a',linewidth:1.5},
 yaxis:{domain:dy(26.3,530.5),range:[1512,75],anchor:'x',showgrid:false,zeroline:false,showticklabels:false,ticks:'',showline:true,mirror:true,linecolor:'#8a8a8a',linewidth:1.5},
 // C
 xaxis2:cats({domain:dx(917.7,1127.8),range:[-0.585,5.606],anchor:'y2'},markerGenes,18,-90),
 yaxis2:cats({domain:dy(58.5,494.6),range:[11.604,-0.623],anchor:'x2'},rowNames,18,0),
 // B
 xaxis3:cats({domain:dx(148,1208),range:[-0.643,83.58],anchor:'y3',ticklen:4,tickwidth:1.2},topGenes,12,-90),
 yaxis3:cats({domain:dy(606.7,853.3),range:[11.58,-0.63],anchor:'x3',ticklen:4},rowNames,12.8,0),
 // D upper
 xaxis4:cats({domain:dx(73.5,501.4),range:[-0.657,28.63],anchor:'y4',title:axisTitle('Sample',17,6)},samplesNon,15,-90),
 yaxis4:classic({domain:dy(987,1274),range:[-0.047,1.052],anchor:'x4',tickvals:[0,.25,.5,.75,1],ticktext:['0.00','0.25','0.50','0.75','1.00'],tickmode:'array',title:axisTitle('Fraction non−cytotoxic cells',17.5,1)}),
 // D lower
 xaxis5:cats({domain:dx(68.7,496.5),range:[-0.608,23.67],anchor:'y5',title:axisTitle('Sample',17,10)},samplesCyto,15.5,-90),
 yaxis5:classic({domain:dy(1384,1687.7),range:[-0.051,1.056],anchor:'x5',tickvals:[0,.25,.5,.75,1],ticktext:['0.00','0.25','0.50','0.75','1.00'],tickmode:'array',title:axisTitle('Fraction cytotoxic cells',18,4)}),
 // E
 xaxis6:classic({domain:dx(783,1174),range:[-59,1259],anchor:'y6',tickmode:'array',tickvals:[0,250,500,750,1000,1250],ticktext:['0','250','500','750','1000','1250'],title:axisTitle('Number of T cells',19,3)}),
 yaxis6:classic({domain:dy(992,1327),range:[-1.157,24.18],anchor:'x6',tickmode:'array',tickvals:[0,5,10,15,20],ticktext:['0','5','10','15','20'],title:axisTitle('Number of T−regs',19,2)}),
 legend:{x:504/W,xanchor:'left',y:1-1069/H,yanchor:'top',font:{family:FONT,size:12,color:INK},traceorder:'normal',tracegroupgap:0,bgcolor:'rgba(0,0,0,0)',itemclick:false,itemdoubleclick:false},
 legend2:{x:501/W,xanchor:'left',y:1-1494/H,yanchor:'top',font:{family:FONT,size:12.5,color:INK},traceorder:'normal',tracegroupgap:0,bgcolor:'rgba(0,0,0,0)',itemclick:false,itemdoubleclick:false},
 legend3:{x:1196/W,xanchor:'left',y:1-1091/H,yanchor:'top',indentation:-13,font:{family:FONT,size:13,color:INK},title:{text:'Disease',font:{family:FONT,size:19,color:INK}},traceorder:'normal',tracegroupgap:0,bgcolor:'rgba(0,0,0,0)',itemclick:false,itemdoubleclick:false},
 shapes:[{type:'line',xref:'x2',yref:'y2',x0:2.5,x1:2.5,y0:-0.5,y1:11.5,line:{color:'#9a9a9a',width:1.6}}],
 annotations:[
  ...clusterLabels.map((t,i)=>({text:t,xref:'x',yref:'y',x:clusterLabelX[i],y:clusterLabelY[i],showarrow:false,font:{family:FONT,size:21.5,color:'rgba(45,45,45,0.92)'}})),
  ...[['A',47,15.5],['C',762,15.5],['B',46,574],['D',47,963],['E',731,972]].map(([t,x,y])=>({text:t,xref:'paper',yref:'paper',x:x/W,y:1-y/H,xanchor:'center',yanchor:'middle',showarrow:false,font:{family:'"Open Sans",sans-serif',size:22,color:'#222'}})),
  {text:'Mean expression',xref:'paper',yref:'paper',x:1246/W,y:1-291/H,textangle:90,xanchor:'center',yanchor:'middle',showarrow:false,font:{family:FONT,size:21.5,color:INK}},
  {text:'Mean expression',xref:'paper',yref:'paper',x:1286/W,y:1-745/H,textangle:90,xanchor:'center',yanchor:'middle',showarrow:false,font:{family:FONT,size:21.5,color:INK}},
  {text:'<i>Healthy range</i>',xref:'x6',yref:'y6',x:952,y:4.87,showarrow:false,font:{family:'"Open Sans",sans-serif',size:20,color:'#333'}},
  {text:'<i>q=5x10<sup>-4</sup></i>',xref:'x6',yref:'y6',x:1082,y:0.63,showarrow:false,font:{family:'"Open Sans",sans-serif',size:16,color:'#333'}}
 ]
};
Plotly.newPlot('chart',traces,layout,{displayModeBar:false,responsive:false});
</script></body></html>
